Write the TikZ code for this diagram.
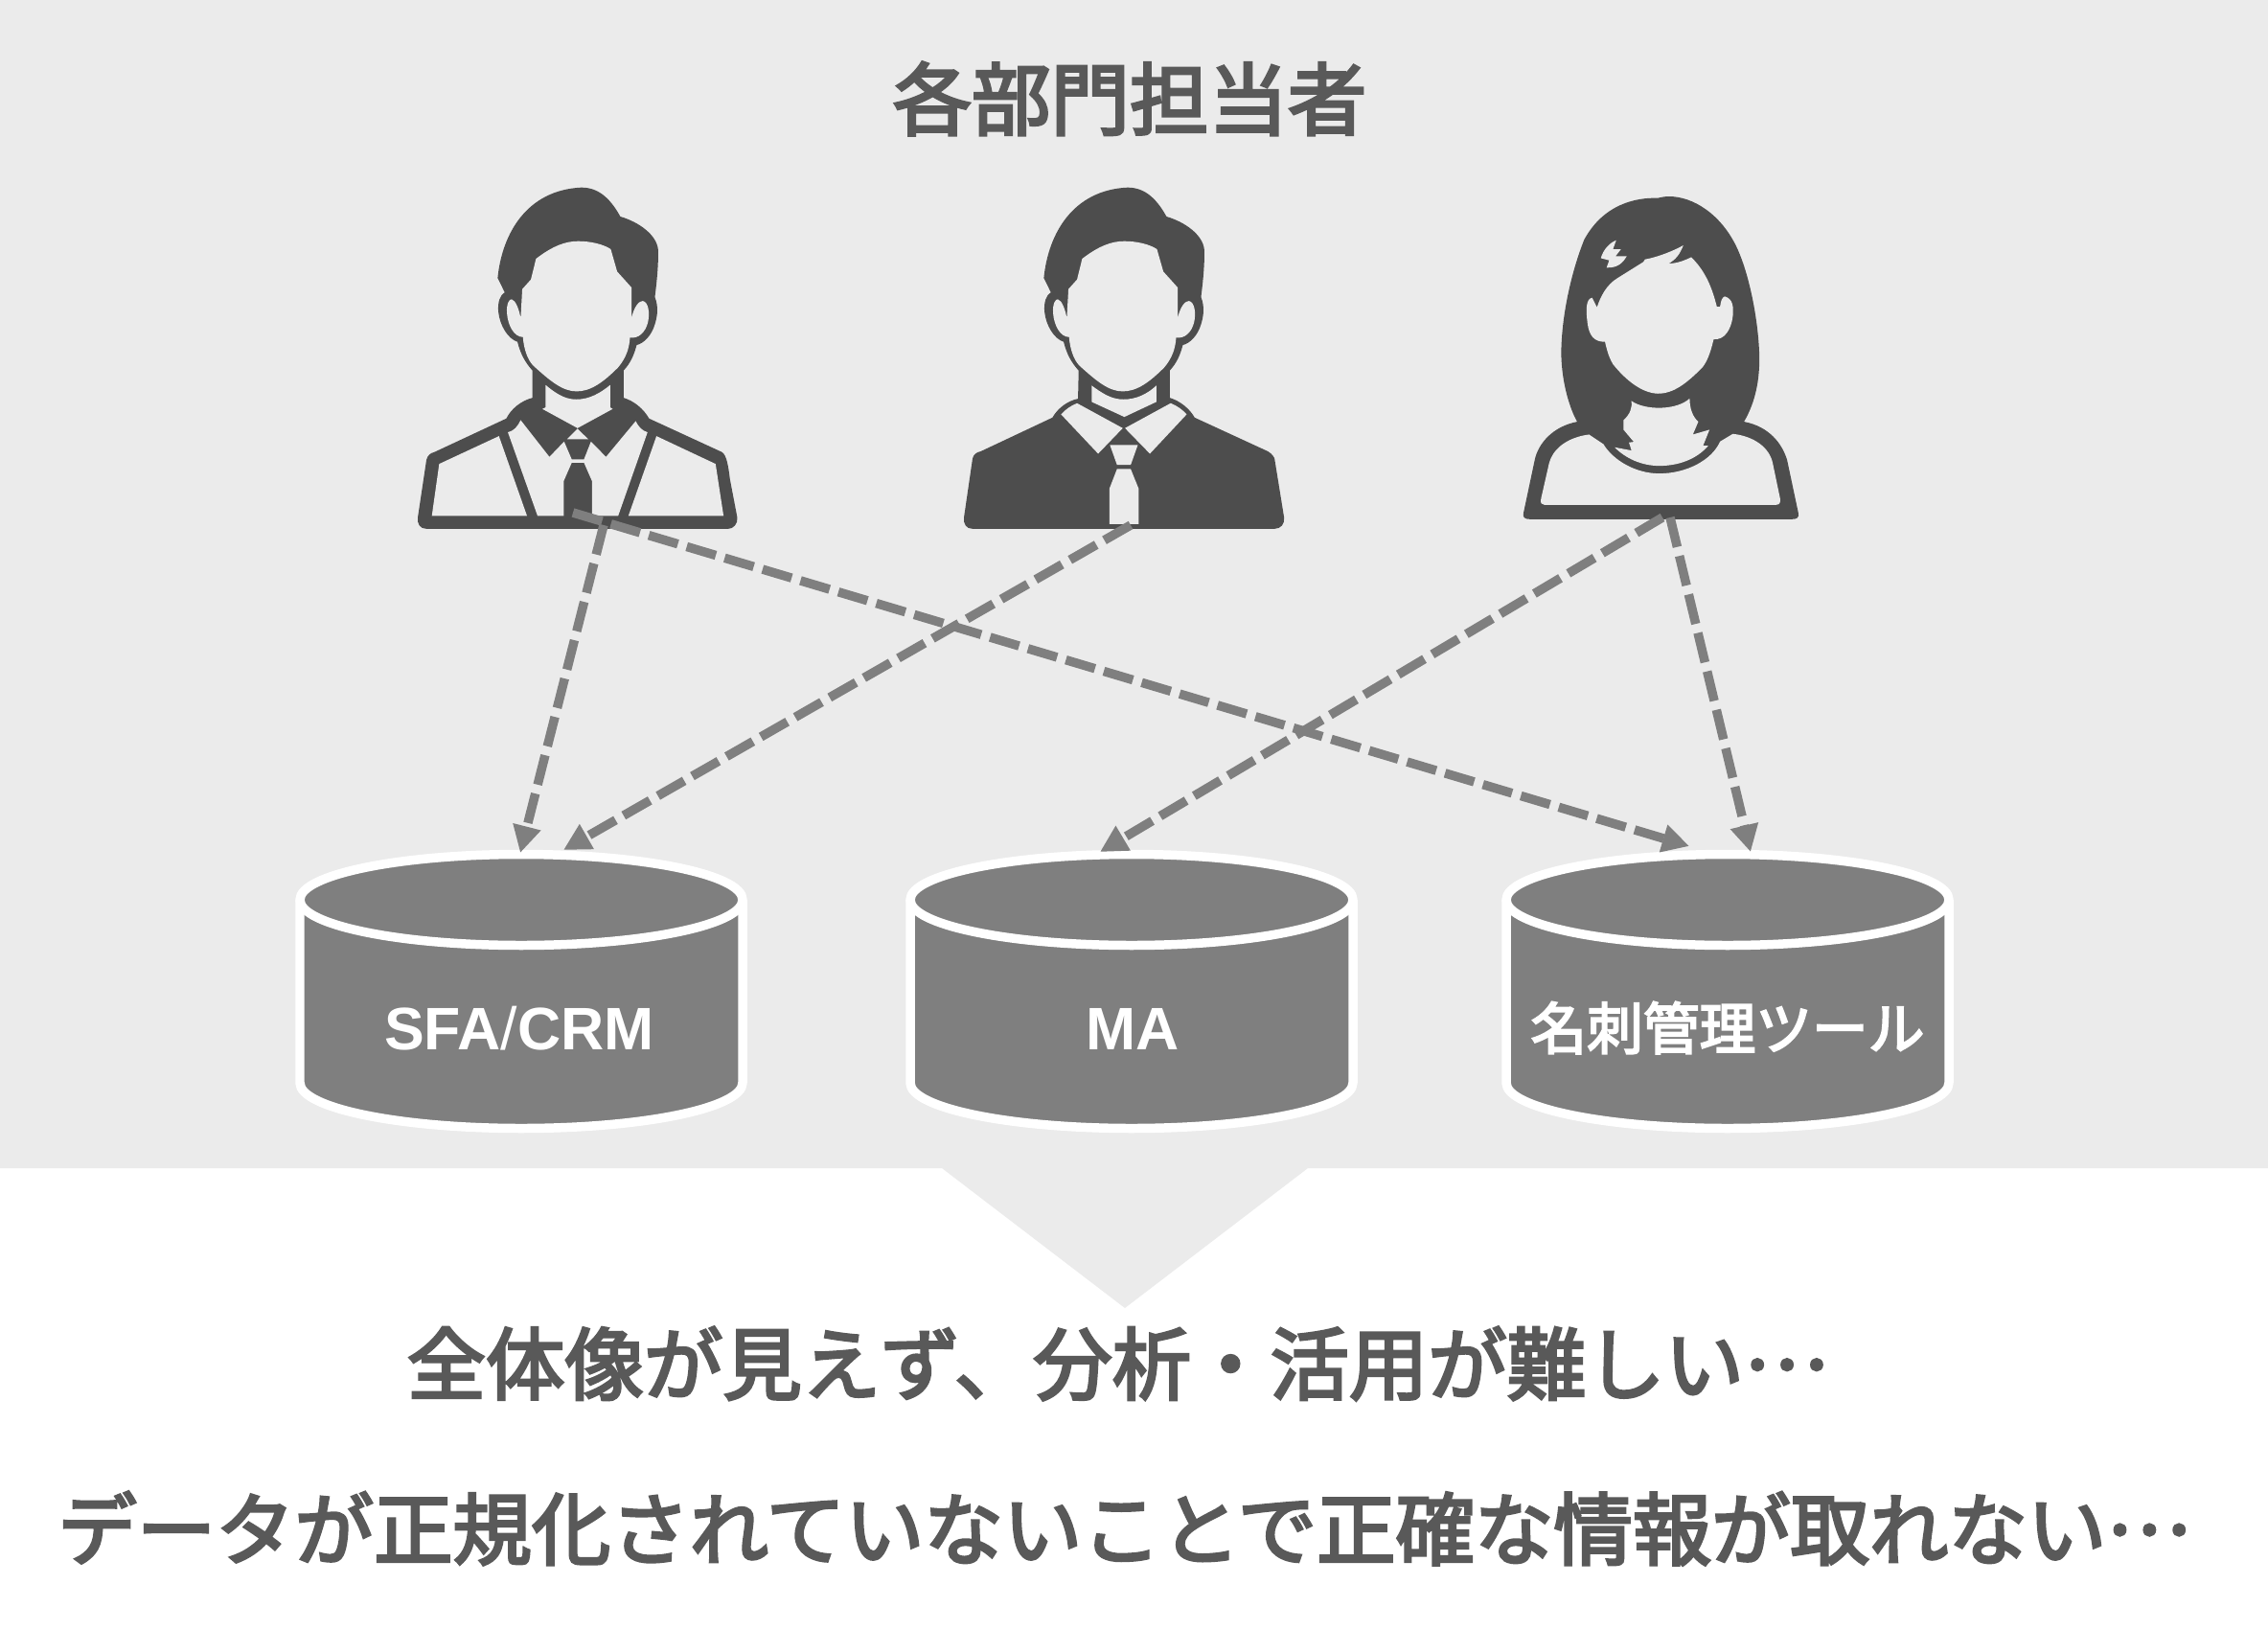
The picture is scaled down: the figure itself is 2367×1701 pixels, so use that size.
\documentclass[tikz,border=0pt]{standalone}
\usepackage{fontspec}
\setmainfont{Noto Sans CJK JP}
\setsansfont{Liberation Sans}
\newfontfamily\jpmedium[FakeBold=3.5]{Noto Sans CJK JP}
\usetikzlibrary{arrows.meta}
\definecolor{panelgray}{HTML}{EBEBEB}
\definecolor{icongray}{HTML}{4D4D4D}
\definecolor{textgray}{HTML}{595959}
\definecolor{linegray}{HTML}{7F7F7F}
\tikzset{
    bigtext/.style={font=\fontsize{46.9pt}{50pt}\jpmedium, text=textgray, inner sep=0pt},
    dbtext/.style={font=\fontsize{35.6pt}{38pt}\sffamily\bfseries, text=white, inner sep=0pt, anchor=base},
    dbbody/.style={fill=linegray, draw=white, line width=5.4pt, line join=round},
    icon/.style={fill=icongray},
    hole/.style={fill=panelgray},
    link/.style={draw=linegray, line width=5.4pt, dash pattern=on 18pt off 5.5pt, -{Triangle[length=16pt,width=16pt]}},
}
\newcommand{\midots}{\raisebox{0.31em}{…}}
% hair, face and neck of the two men
\newcommand{\manhead}{
    \fill[hole] (478,300) .. controls (530,260) and (570,245) .. (610,245) .. controls (650,245) and (690,255) .. (712,270) -- (732,340) -- (777,390) -- (777,485)
        .. controls (785,450) and (800,432) .. (812,432) .. controls (830,435) and (835,470) .. (828,500) .. controls (820,530) and (800,550) .. (772,547)
        .. controls (770,580) and (760,610) .. (735,640) .. controls (690,685) and (650,715) .. (605,715) .. controls (560,715) and (520,680) .. (470,635)
        .. controls (450,615) and (440,580) .. (437,545) .. controls (410,545) and (390,510) .. (387,470) .. controls (385,440) and (395,425) .. (402,427)
        .. controls (415,430) and (425,460) .. (430,485) -- (435,395) -- (462,365) -- cycle;
}
\newcommand{\manoutline}{
    (358,360) .. controls (372,220) and (450,85) .. (620,77) .. controls (680,77) and (715,120) .. (742,168) .. controls (800,185) and (855,225) .. (860,270)
    .. controls (862,320) and (855,380) .. (850,420) .. controls (862,450) and (858,480) .. (850,505) .. controls (840,540) and (815,565) .. (793,570)
    .. controls (785,600) and (775,625) .. (752,650) -- (752,735)
}
\newcommand{\manoutlineb}{
    -- (467,650) .. controls (445,625) and (430,600) .. (420,560) .. controls (390,550) and (365,510) .. (360,465) .. controls (358,435) and (365,415) .. (380,405) -- cycle
}
\begin{document}
\begin{tikzpicture}[x=0.2mm, y=-0.2mm]
    \useasboundingbox (0,0) rectangle (2367,1701);
    \fill[white] (0,0) rectangle (2367,1701);
    \fill[panelgray] (0,0) rectangle (2367,1219) (983,1219) -- (1365,1219) -- (1174,1365) -- cycle;

    \node[bigtext] (title) at (1179,103) {各部門担当者};

    % left man, with an open jacket
    \begin{scope}[shift={(400,170)}, x=0.0667mm, y=-0.0667mm]
        \fill[icon] \manoutline .. controls (785,745) and (815,770) .. (832,800) -- (1060,905) .. controls (1075,915) and (1080,950) .. (1085,990) -- (1108,1110)
            .. controls (1110,1130) and (1095,1145) .. (1080,1145) -- (135,1145) .. controls (115,1145) and (106,1130) .. (108,1110) -- (135,930) .. controls (138,915) and (148,908) .. (160,905)
            -- (385,800) .. controls (400,770) and (430,745) .. (467,735) \manoutlineb;
        \manhead
        \fill[hole] (508,695) .. controls (550,730) and (575,740) .. (605,740) .. controls (645,740) and (680,720) .. (710,695) -- (710,765) -- (718,770) -- (608,830) -- (498,770) -- (508,765) -- cycle;
        \fill[hole] (175,942) -- (362,855) -- (450,1105) -- (152,1105) -- cycle;
        \fill[hole] (855,855) -- (1040,942) -- (1065,1105) -- (767,1105) -- cycle;
        \fill[hole] (390,843) .. controls (410,838) and (420,825) .. (430,805) -- (520,920) -- (566,872) -- (590,928) -- (628,928) -- (650,872) -- (697,920) -- (790,808)
            .. controls (798,825) and (810,838) .. (827,843) -- (735,1105) -- (653,1105) -- (653,995) -- (628,938) -- (590,938) -- (565,995) -- (565,1105) -- (483,1105) -- cycle;
        \fill[hole] (608,832) -- (575,865) -- (642,865) -- cycle;
    \end{scope}

    % middle man, with a dark jacket
    \begin{scope}[shift={(970,170)}, x=0.0667mm, y=-0.0667mm]
        \fill[icon] \manoutline .. controls (785,745) and (815,770) .. (830,797) -- (1060,903) .. controls (1075,912) and (1080,925) .. (1080,925) -- (1110,1110)
            .. controls (1112,1130) and (1100,1145) .. (1080,1145) -- (135,1145) .. controls (115,1145) and (106,1130) .. (108,1110) -- (135,925) .. controls (138,912) and (148,905) .. (160,903)
            -- (385,797) .. controls (400,770) and (430,745) .. (465,738) \manoutlineb;
        \manhead
    \end{scope}
    \begin{scope}[shift={(980,170)}, x=0.0667mm, y=-0.0667mm]
        \fill[hole] (478,697) .. controls (520,728) and (545,740) .. (578,740) .. controls (615,740) and (650,725) .. (680,697) -- (680,748) -- (580,795) -- (478,748) -- cycle;
        \fill[hole] (432,752) .. controls (412,760) and (395,772) .. (382,787) -- (498,910) -- (575,830) -- cycle;
        \fill[hole] (725,752) .. controls (745,760) and (762,772) .. (775,787) -- (660,910) -- (582,830) -- cycle;
        \fill[hole] (535,883) -- (622,883) -- (600,945) -- (557,945) -- cycle;
        \fill[hole] (557,958) -- (600,958) -- (625,1020) -- (625,1130) -- (533,1130) -- (533,1020) -- cycle;
    \end{scope}

    % woman
    \begin{scope}[shift={(1560,180)}, x=0.0667mm, y=-0.0667mm]
        \fill[icon] (510,80) .. controls (440,78) and (340,100) .. (280,210) .. controls (240,310) and (208,450) .. (208,570) .. controls (210,660) and (235,740) .. (258,780)
            .. controls (180,795) and (135,850) .. (125,900) -- (90,1065) .. controls (86,1080) and (95,1085) .. (110,1085) -- (930,1085) .. controls (945,1085) and (954,1080) .. (950,1065)
            -- (915,900) .. controls (900,850) and (860,795) .. (780,780) .. controls (815,720) and (830,650) .. (828,570) .. controls (825,470) and (800,330) .. (760,240)
            .. controls (710,130) and (620,75) .. (545,75) .. controls (530,75) and (520,78) .. (510,80) -- cycle;
        \fill[hole] (295,820) .. controls (220,830) and (180,870) .. (170,910) -- (145,1020) .. controls (141,1035) and (148,1040) .. (155,1040) -- (880,1040) .. controls (892,1040) and (895,1032) .. (893,1020)
            -- (870,910) .. controls (860,860) and (810,825) .. (745,818) -- (705,842) .. controls (680,900) and (600,942) .. (515,942) .. controls (440,942) and (370,900) .. (340,850) -- cycle;
        \fill[hole] (428,715) .. controls (470,745) and (570,745) .. (610,707) .. controls (610,740) and (620,765) .. (637,780) -- (620,820) -- (672,805) -- (652,855) -- (668,855)
            .. controls (630,900) and (570,918) .. (515,918) .. controls (460,918) and (410,895) .. (375,860) -- (428,870) -- (420,845) -- (435,843) -- (403,805) -- (403,775) .. controls (425,755) and (430,735) .. (428,715) -- cycle;
        \fill[hole] (615,265) .. controls (660,310) and (680,360) .. (695,420) -- (705,420) .. controls (708,400) and (712,390) .. (720,388) .. controls (745,395) and (748,420) .. (745,450)
            .. controls (740,490) and (720,525) .. (685,522) .. controls (675,565) and (665,590) .. (650,610) .. controls (600,660) and (560,692) .. (510,692) .. controls (460,690) and (410,650) .. (370,600)
            .. controls (355,575) and (350,550) .. (345,530) .. controls (310,530) and (295,510) .. (290,470) .. controls (285,430) and (285,395) .. (305,392) -- (320,422) .. controls (330,390) and (350,350) .. (385,330)
            -- (465,280) -- (470,272) .. controls (510,265) and (560,245) .. (590,228) .. controls (580,255) and (565,275) .. (543,285) .. controls (570,285) and (595,275) .. (615,265) -- cycle;
        \fill[hole] (380,212) -- (370,240) -- (395,240) -- (378,262) -- (413,262) .. controls (395,295) and (370,298) .. (350,298) -- (358,275) -- (332,268) .. controls (340,240) and (360,220) .. (380,212) -- cycle;
    \end{scope}

    % databases
    \foreach \dbname/\dbx/\dbtx/\dblabel in {sfa/544/542/{SFA{\mdseries /}CRM}, ma/1181/1182/MA, card/1803/1803/{\fontsize{33.4pt}{36pt}\mdseries\jpmedium 名刺管理ツール}}{
        \filldraw[dbbody] (\dbx-231,939) -- (\dbx-231,1130) arc[start angle=180, end angle=0, x radius=231, y radius=47.5] -- (\dbx+231,939);
        \filldraw[dbbody] (\dbx,939) ellipse[x radius=231, y radius=47.5];
        \node[dbtext] (\dbname) at (\dbtx,1095) {\dblabel};
    }

    \node[bigtext] (msga) at (1166,1423) {全体像が見えず、分析・活用が難しい\midots};
    \node[bigtext] (msgb) at (1173,1595) {データが正規化されていないことで正確な情報が取れない\midots};

    \coordinate (left) at (630,548);
    \coordinate (leftb) at (598,535);
    \coordinate (mid) at (1180,548);
    \coordinate (right) at (1735,540);
    \coordinate (rightb) at (1743,540);
    \coordinate (sfaa) at (543,890);
    \coordinate (sfab) at (588,887);
    \coordinate (maa) at (1148,889);
    \coordinate (carda) at (1763,883);
    \coordinate (cardb) at (1827,889);

    \draw[link] (left) -- (sfaa);
    \draw[link] (mid) -- (sfab);
    \draw[link] (leftb) -- (carda);
    \draw[link] (right) -- (maa);
    \draw[link] (rightb) -- (cardb);
\end{tikzpicture}
\end{document}
